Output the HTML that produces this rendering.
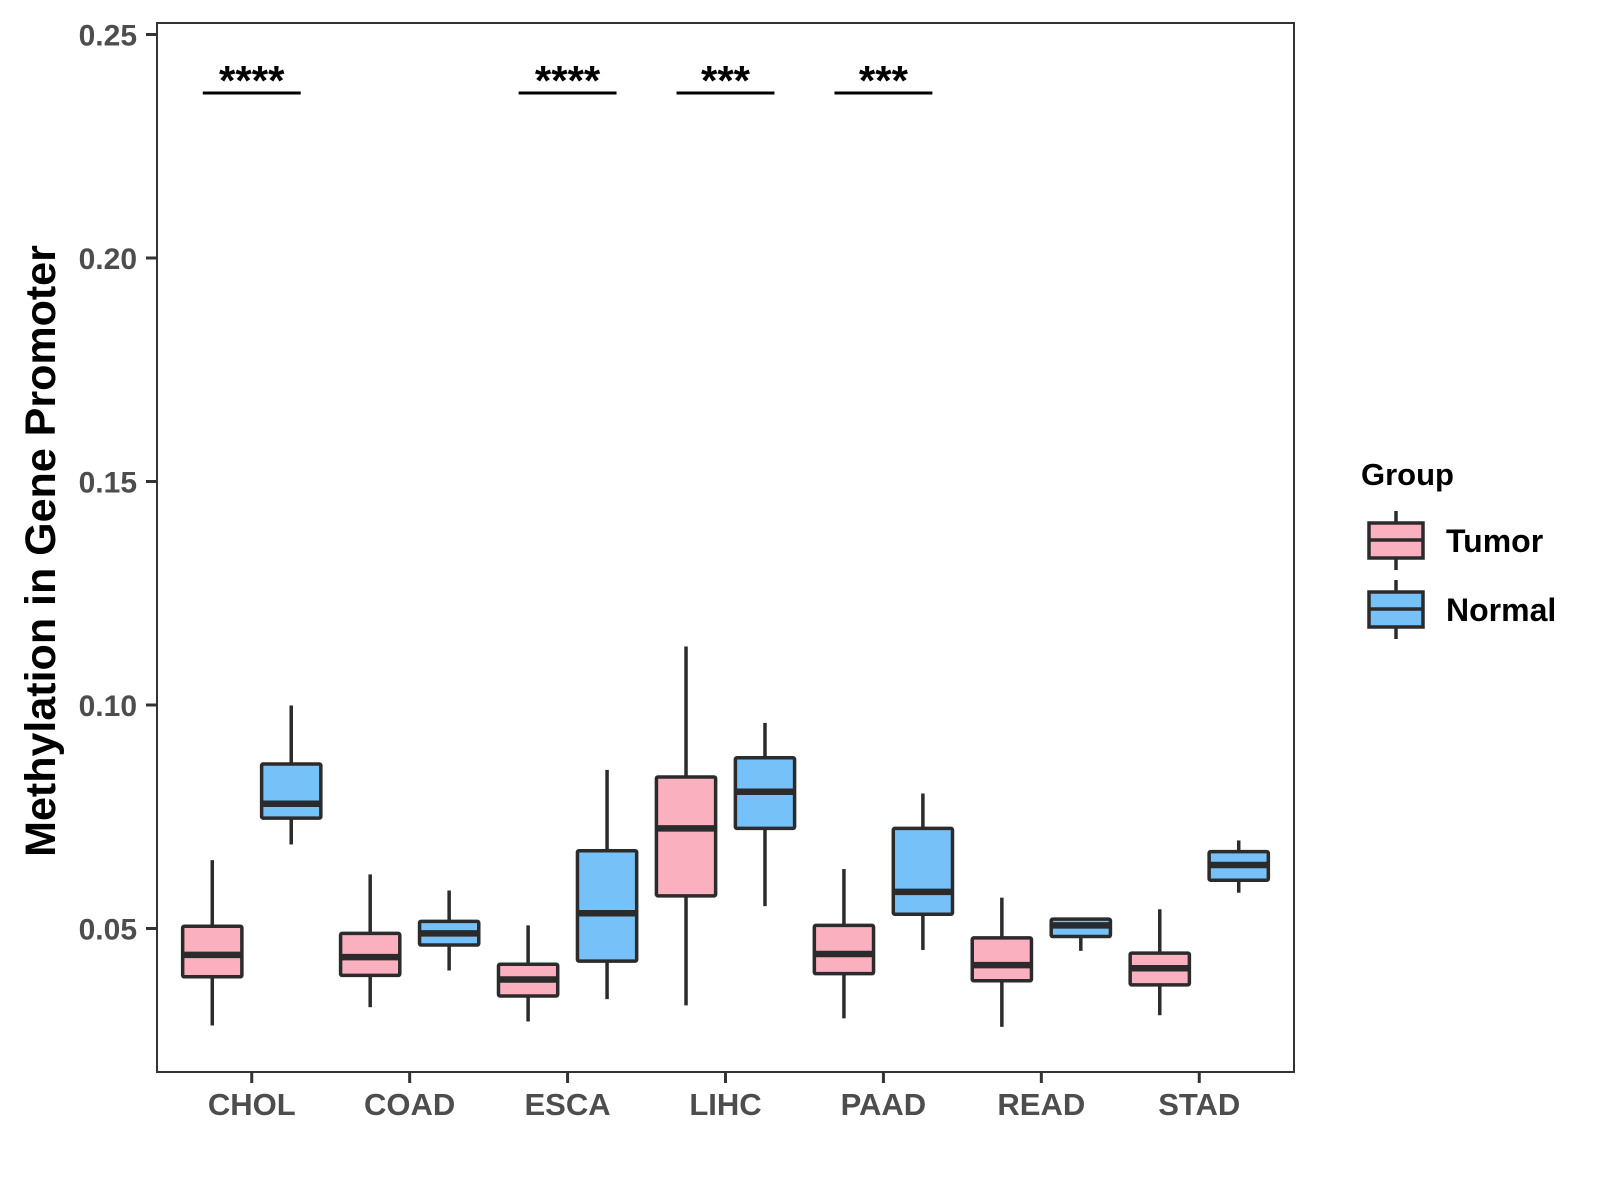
<!DOCTYPE html>
<html><head><meta charset="utf-8"><style>
html,body{margin:0;padding:0;background:#fff}
svg{display:block;font-family:"Liberation Sans",Arial,sans-serif;font-weight:bold}
</style></head><body>
<svg id="chart" width="1600" height="1200" viewBox="0 0 1600 1200" xmlns="http://www.w3.org/2000/svg">
<rect x="0" y="0" width="1600" height="1200" fill="#fff"/>
<g id="marks"></g>
<g id="axes"></g>
<rect x="157" y="23" width="1137" height="1049" fill="none" stroke="#333" stroke-width="2"/>
<text x="41" y="551" transform="rotate(-90 41 551)" text-anchor="middle" dominant-baseline="central" font-size="43" fill="#000">Methylation in Gene Promoter</text>
<g>
<text x="1361" y="485" font-size="31" fill="#000">Group</text>
<g>
<line x1="1396" y1="511" x2="1396" y2="570" stroke="#2b2b2b" stroke-width="3.5"/>
<rect x="1369" y="523" width="54" height="35" fill="#fbb0c0" stroke="#2b2b2b" stroke-width="3.5"/>
<line x1="1369" y1="540" x2="1423" y2="540" stroke="#2b2b2b" stroke-width="3.5"/>
<text x="1446" y="552" font-size="32" fill="#000">Tumor</text>
</g>
<g>
<line x1="1396" y1="580" x2="1396" y2="639" stroke="#2b2b2b" stroke-width="3.5"/>
<rect x="1369" y="592" width="54" height="35" fill="#76c1f8" stroke="#2b2b2b" stroke-width="3.5"/>
<line x1="1369" y1="609" x2="1423" y2="609" stroke="#2b2b2b" stroke-width="3.5"/>
<text x="1446" y="621" font-size="32" fill="#000">Normal</text>
</g>
</g>
</svg>
<script>
const categories = ["CHOL","COAD","ESCA","LIHC","PAAD","READ","STAD"];
// [lowWhisker, q1, median, q3, highWhisker]
const tumorStats = [
 [0.0283,0.0392,0.0441,0.0505,0.0653],
 [0.0324,0.0395,0.0436,0.0489,0.0621],
 [0.0292,0.0349,0.0386,0.0420,0.0507],
 [0.0328,0.0573,0.0724,0.0839,0.1131],
 [0.0299,0.0399,0.0443,0.0507,0.0633],
 [0.0280,0.0383,0.0418,0.0479,0.0569],
 [0.0306,0.0374,0.0411,0.0445,0.0543]
];
const normalStats = [
 [0.0688,0.0747,0.0779,0.0868,0.0999],
 [0.0406,0.0463,0.0489,0.0516,0.0585],
 [0.0342,0.0427,0.0534,0.0674,0.0855],
 [0.0550,0.0724,0.0806,0.0882,0.0960],
 [0.0452,0.0532,0.0582,0.0724,0.0802],
 [0.0450,0.0482,0.0507,0.0521,0.0523],
 [0.0580,0.0608,0.0642,0.0672,0.0697]
];
const yTicks = [0.05,0.10,0.15,0.20,0.25];
const yTickLabels = ["0.05","0.10","0.15","0.20","0.25"];
const sigLabels = ["****","","****","***","***","",""];
const sigLevel = 0.2369;

const NS="http://www.w3.org/2000/svg";
const PL=157, PR=1294;
const y = v => 34.5 + (0.25 - v) * 4470;
const step = (PR-PL)/7.2;
const x = i => PL + (i+0.6)*step;
const bw = step*0.375;
const off = step*0.25;
function el(tag, attrs, parent){const e=document.createElementNS(NS,tag);for(const k in attrs)e.setAttribute(k,attrs[k]);parent.appendChild(e);return e;}
const marks=document.getElementById('marks'), axes=document.getElementById('axes');

function drawBox(s, cx, fill, name){
  const g=el('g',{},marks);
  
  
  el('line',{x1:cx,x2:cx,y1:y(s[4]),y2:y(s[3]),stroke:'#2b2b2b','stroke-width':3.5},g);
  el('line',{x1:cx,x2:cx,y1:y(s[1]),y2:y(s[0]),stroke:'#2b2b2b','stroke-width':3.5},g);
  el('rect',{x:cx-bw/2,y:y(s[3]),width:bw,height:y(s[1])-y(s[3]),fill:fill,stroke:'#2b2b2b','stroke-width':3.5,rx:1.5},g);
  el('line',{x1:cx-bw/2,x2:cx+bw/2,y1:y(s[2]),y2:y(s[2]),stroke:'#2b2b2b','stroke-width':6.5},g);
}
categories.forEach((c,i)=>{
  drawBox(tumorStats[i], x(i)-off, '#fbb0c0', 'box-tumor-'+c.toLowerCase());
  drawBox(normalStats[i], x(i)+off, '#76c1f8', 'box-normal-'+c.toLowerCase());
  const t=el('line',{x1:x(i),x2:x(i),y1:1072,y2:1083,stroke:'#333','stroke-width':3},axes);
  
  
  const lb=el('text',{x:x(i),y:1115,'text-anchor':'middle','font-size':31,fill:'#4d4d4d'},axes);
  lb.textContent=c;
  
  
  if(sigLabels[i]){
    const sg=el('g',{},marks);
    
    
    el('line',{x1:x(i)-step*0.31,x2:x(i)+step*0.31,y1:y(sigLevel),y2:y(sigLevel),stroke:'#000','stroke-width':3},sg);
    const st=el('text',{x:x(i),y:y(sigLevel)+2,'text-anchor':'middle','font-size':42,fill:'#000'},sg);
    st.textContent=sigLabels[i];
  }
});
yTicks.forEach((v,i)=>{
  const t=el('line',{x1:146,x2:157,y1:y(v),y2:y(v),stroke:'#333','stroke-width':3},axes);
  
  
  const lb=el('text',{x:137,y:y(v)+11,'text-anchor':'end','font-size':30,fill:'#4d4d4d'},axes);
  lb.textContent=yTickLabels[i];
  
  
});
</script>
</body></html>
